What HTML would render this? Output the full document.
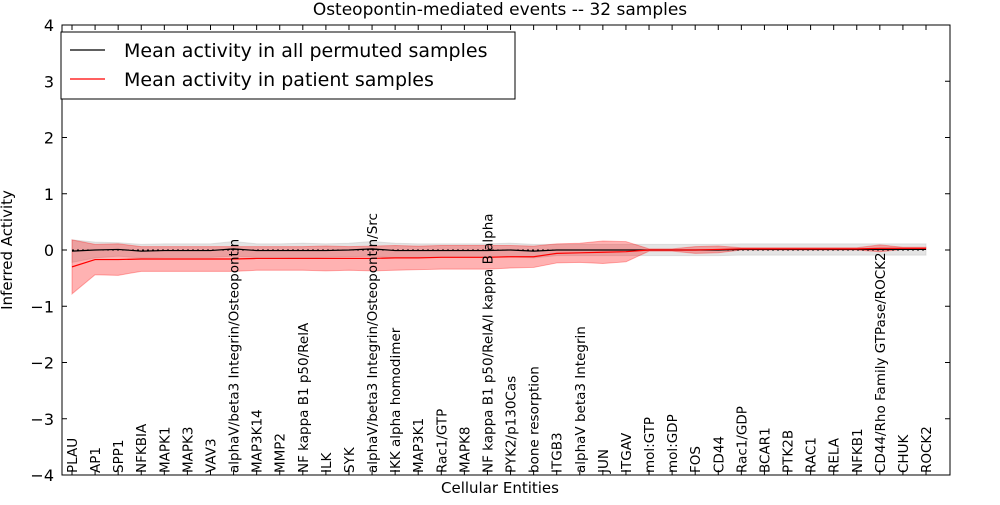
<!DOCTYPE html>
<html><head><meta charset="utf-8"><style>
body{margin:0;background:#fff;width:1000px;height:500px;overflow:hidden}
svg{font-family:"DejaVu Sans","Liberation Sans",sans-serif}
</style></head><body>
<svg id="chart" width="1000" height="500" xmlns="http://www.w3.org/2000/svg"></svg>
<script>
const categories=["PLAU","AP1","SPP1","NFKBIA","MAPK1","MAPK3","VAV3","alphaV/beta3 Integrin/Osteopontin","MAP3K14","MMP2","NF kappa B1 p50/RelA","ILK","SYK","alphaV/beta3 Integrin/Osteopontin/Src","IKK alpha homodimer","MAP3K1","Rac1/GTP","MAPK8","NF kappa B1 p50/RelA/I kappa B alpha","PYK2/p130Cas","bone resorption","ITGB3","alphaV beta3 Integrin","JUN","ITGAV","mol:GTP","mol:GDP","FOS","CD44","Rac1/GDP","BCAR1","PTK2B","RAC1","RELA","NFKB1","CD44/Rho Family GTPase/ROCK2","CHUK","ROCK2"];
const patientMean=[-0.3,-0.17,-0.17,-0.16,-0.16,-0.16,-0.16,-0.16,-0.15,-0.15,-0.15,-0.15,-0.15,-0.15,-0.14,-0.14,-0.13,-0.13,-0.13,-0.12,-0.12,-0.06,-0.05,-0.04,-0.03,0,0,0,0.01,0.02,0.02,0.02,0.02,0.02,0.02,0.03,0.03,0.03];
const patientStd=[0.48,0.27,0.28,0.22,0.22,0.22,0.22,0.22,0.21,0.21,0.21,0.22,0.21,0.22,0.22,0.21,0.21,0.21,0.21,0.2,0.19,0.17,0.17,0.2,0.18,0.02,0.02,0.06,0.06,0.02,0.02,0.02,0.02,0.02,0.02,0.06,0.02,0.02];
const permMean=[-0.02,0,0.01,-0.02,-0.01,-0.01,-0.01,0.02,-0.01,-0.01,-0.01,-0.01,0,0.02,-0.01,-0.01,-0.01,-0.01,-0.01,0,-0.02,0,0,0,0,0,0,0,0,0.01,0.01,0.01,0.01,0.01,0.01,0.01,0.01,0.01];
const permStd=[0.2,0.14,0.12,0.12,0.12,0.12,0.12,0.13,0.12,0.12,0.13,0.12,0.12,0.13,0.13,0.12,0.12,0.12,0.12,0.12,0.12,0.1,0.1,0.1,0.1,0.1,0.1,0.1,0.1,0.1,0.1,0.1,0.1,0.1,0.1,0.1,0.1,0.1];
const yTicks=[-4,-3,-2,-1,0,1,2,3,4];
const NS="http://www.w3.org/2000/svg";
const svg=document.getElementById('chart');
const L=62,R=950,T=25,B=475;
const x=i=>72+i*(926-72)/(categories.length-1);
const y=v=>T+(4-v)*(B-T)/8;
function mk(t,a,p){const e=document.createElementNS(NS,t);for(const k in a)e.setAttribute(k,a[k]);(p||svg).appendChild(e);return e;}
function band(m,s,fill,op,name){
  let pts=m.map((v,i)=>x(i)+','+y(v+s[i]));
  for(let i=m.length-1;i>=0;i--)pts.push(x(i)+','+y(m[i]-s[i]));
  const p=mk('polygon',{points:pts.join(' '),fill:fill,'fill-opacity':op,stroke:fill,'stroke-opacity':op});
  
  
}
band(permMean,permStd,'#bbbbbb',0.4,'permuted-band');
band(patientMean,patientStd,'#ff0000',0.3,'patient-band');
const z=mk('line',{x1:x(0),x2:x(categories.length-1),y1:y(0),y2:y(0),stroke:'#000','stroke-dasharray':'2,3','stroke-width':1});


function line(m,c,name){const l=mk('polyline',{points:m.map((v,i)=>x(i)+','+y(v)).join(' '),fill:'none',stroke:c,'stroke-width':1.2});

}
line(permMean,'#000','permuted-mean-line');
line(patientMean,'#ff0000','patient-mean-line');
const fr=mk('rect',{x:L,y:T,width:R-L,height:B-T,fill:'none',stroke:'#000'});


yTicks.forEach(v=>{
  mk('line',{x1:L,x2:L+5,y1:y(v),y2:y(v),stroke:'#000'});
  mk('line',{x1:R-5,x2:R,y1:y(v),y2:y(v),stroke:'#000'});
  const t=mk('text',{x:L-8,y:y(v)+6,'text-anchor':'end','font-size':16});
  t.textContent=(v<0?'\u2212'+(-v):v);
  
  
});
categories.forEach((c,i)=>{
  mk('line',{x1:x(i),x2:x(i),y1:B,y2:B-5,stroke:'#000'});
  mk('line',{x1:x(i),x2:x(i),y1:T,y2:T+5,stroke:'#000'});
  const t=mk('text',{x:0,y:0,transform:`translate(${x(i)+5},${B-2}) rotate(-90)`,'font-size':13.5});
  t.textContent=c;
  
  
});
const ti=mk('text',{x:500,y:15,'text-anchor':'middle','font-size':17});ti.textContent='Osteopontin-mediated events -- 32 samples';


const xt=mk('text',{x:500,y:493,'text-anchor':'middle','font-size':15});xt.textContent='Cellular Entities';


const yt=mk('text',{x:0,y:0,transform:'translate(12,250) rotate(-90)','text-anchor':'middle','font-size':15});yt.textContent='Inferred Activity';


const lg=mk('g',{});


mk('rect',{x:61,y:32,width:454,height:67,fill:'#fff',stroke:'#000'},lg);
[['Mean activity in all permuted samples','#000',50],['Mean activity in patient samples','#ff0000',79]].forEach(([s,c,yy])=>{
  mk('line',{x1:70,x2:105,y1:yy,y2:yy,stroke:c,'stroke-width':1.2},lg);
  const t=mk('text',{x:124,y:yy+7,'font-size':19},lg);t.textContent=s;
  
  
});
</script>
</body></html>
